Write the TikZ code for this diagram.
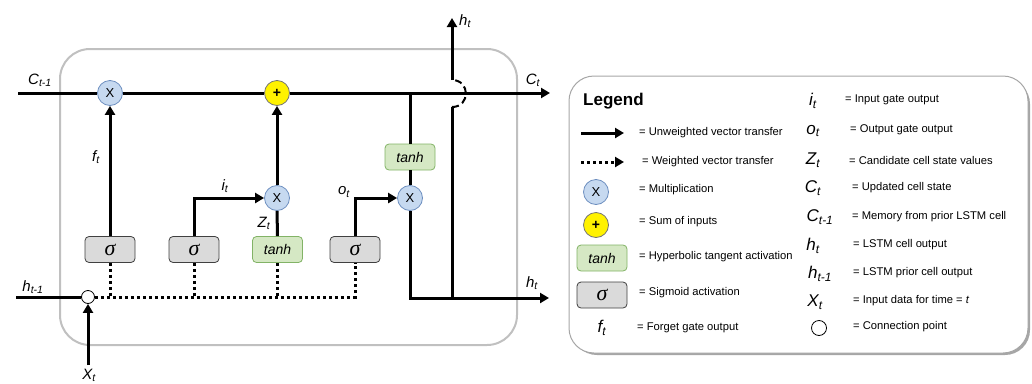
\documentclass[tikz,border=0pt]{standalone}
\usepackage{fontspec}
\setmainfont{Liberation Sans}
\newfontfamily\sigfont{Liberation Serif}
\usetikzlibrary{arrows.meta,calc}
\definecolor{mulfill}{HTML}{C6D9F0}
\definecolor{mulline}{HTML}{6C8EBF}
\definecolor{tanhfill}{HTML}{D5E8C4}
\definecolor{tanhline}{HTML}{82B366}
\definecolor{sigfill}{HTML}{DADADA}
\definecolor{sigline}{HTML}{404040}
\definecolor{boxline}{HTML}{C0C0C0}
\newcommand\vlab[2]{{\itshape #1\textsubscript{#2}}}
\newcommand\sigsym{{\sigfont\itshape\fontsize{22}{22}\selectfont σ}}
\tikzset{
  mulc/.style={circle,draw=mulline,fill=mulfill,line width=0.8pt,minimum size=25pt,inner sep=0pt,font=\fontsize{13}{13}\selectfont},
  addc/.style={circle,draw=black!55,fill=yellow,line width=0.8pt,minimum size=25pt,inner sep=0pt,font=\fontsize{14}{14}\selectfont\bfseries},
  tanhbox/.style={rectangle,rounded corners=4pt,draw=tanhline,fill=tanhfill,line width=0.8pt,minimum width=50pt,minimum height=26pt,inner sep=0pt,font=\fontsize{14}{14}\selectfont\itshape},
  sigbox/.style={rectangle,rounded corners=4pt,draw=sigline,fill=sigfill,line width=0.8pt,minimum width=50pt,minimum height=26pt,inner sep=0pt},
  joint/.style={circle,draw=black,fill=white,line width=0.8pt,minimum size=13pt,inner sep=0pt},
  wire/.style={line width=3pt,black},
  arrowline/.style={wire,-{Triangle[length=9pt,width=10pt]}},
  dotline/.style={line width=3pt,black,dash pattern=on 3pt off 3pt},
  var/.style={inner sep=0pt,font=\fontsize{15}{17}\selectfont},
  lvar/.style={inner sep=0pt,font=\fontsize{17}{19}\selectfont},
  desc/.style={anchor=west,inner sep=0pt,font=\fontsize{11.2}{13}\selectfont}
}
\begin{document}
\begin{tikzpicture}[x=1pt,y=-1pt]
\useasboundingbox (0,0) rectangle (1032,383);
% main cell frame
\draw[boxline,line width=2pt,rounded corners=30pt] (60,49) rectangle (517,345);
% nodes
\node[mulc] (mulf) at (110,93) {X};
\node[addc] (add) at (277,93) {+};
\node[mulc] (muli) at (277,198) {X};
\node[mulc] (mulo) at (410,198) {X};
\node[sigbox] (sig1) at (110,249.5) {\sigsym};
\node[sigbox] (sig2) at (194,249.5) {\sigsym};
\node[tanhbox] (tanh1) at (277.5,249.5) {tanh};
\node[sigbox] (sig3) at (355,249.5) {\sigsym};
\node[tanhbox] (tanh2) at (410,157) {tanh};
\node[joint] (conn) at (88,297) {};
\coordinate (cin) at (18,93);
\coordinate (cout) at (550,93);
\coordinate (cj) at (410,93);
\coordinate (hin) at (16,297);
\coordinate (xin) at (88,365);
\coordinate (hout) at (549,298);
\coordinate (hj) at (452,298);
\coordinate (jb) at (452,107);
\coordinate (ja) at (452,80);
\coordinate (htop) at (452,18);
% cell state line
\draw[wire] (cin) -- (mulf) -- (add);
\draw[arrowline] (add) -- (cout);
% gates
\draw[arrowline] (sig1) -- (mulf);
\draw[arrowline] (sig2.north) |- (muli);
\draw[wire] (muli) -- (tanh1);
\draw[arrowline] (muli) -- (add);
\draw[arrowline] (sig3.north) |- (mulo);
\draw[wire] (cj) -- (tanh2);
\draw[wire] (tanh2) -- (mulo);
\draw[arrowline] (mulo) |- (hout);
\draw[wire] (hj) -- (jb);
\draw[line width=2pt,dash pattern=on 7pt off 4pt] (jb) .. controls ($(jb)+(18.5,0)$) and ($(ja)+(18.5,0)$) .. (ja);
\draw[arrowline] (ja) -- (htop);
% inputs
\draw[wire] (hin) -- (conn);
\draw[arrowline] (xin) -- (conn);
\draw[dotline] (conn) -- (sig3.south |- conn) -- (sig3.south);
\draw[dotline] (sig1.south) -- (sig1.south |- conn);
\draw[dotline] (sig2.south) -- (sig2.south |- conn);
\draw[dotline] (tanh1.south) -- (tanh1.south |- conn);
% labels
\node[var] (lc1) at (40,80) {\vlab{C}{t-1}};
\node[var] (lct) at (533,80) {\vlab{C}{t}};
\node[var] (lft) at (96,157) {\vlab{f}{t}};
\node[var] (lit) at (225,186) {\vlab{i}{t}};
\node[var] (lzt) at (264,223) {\vlab{Z}{t}};
\node[var] (lot) at (344,192) {\vlab{o}{t}};
\node[var] (lht) at (532,283) {\vlab{h}{t}};
\node[var,anchor=west] (lhtop) at (459,21) {\vlab{h}{t}};
\node[var] (lhin) at (33,287) {\vlab{h}{t-1}};
\node[var,anchor=south] (lxt) at (89,382) {\vlab{X}{t}};
% legend frame
\fill[black!35,rounded corners=25pt] (572,79) rectangle (1030,355);
\draw[black!35,fill=white,line width=1pt,rounded corners=25pt] (569,76) rectangle (1028,353);
\node[anchor=west,inner sep=0pt,font=\fontsize{17}{20}\selectfont\bfseries] (leg) at (583,101) {Legend};
\coordinate (la1) at (581,133); \coordinate (lb1) at (624,133);
\draw[arrowline] (la1) -- (lb1);
\coordinate (la2) at (581,162); \coordinate (lb2) at (624,162);
\draw[dotline,-{Triangle[length=9pt,width=10pt]}] (la2) -- (lb2);
\node[mulc] (lmul) at (596,192) {X};
\node[addc] (ladd) at (596,225) {+};
\node[tanhbox] (ltanh) at (602,258) {tanh};
\node[sigbox] (lsig) at (602,295) {\sigsym};
\node[lvar] (lf) at (602,328) {\vlab{f}{t}};
\node[desc] at (639,133) {= Unweighted vector transfer};
\node[desc] at (642,162) {= Weighted vector transfer};
\node[desc] at (639,190) {= Multiplication};
\node[desc] at (639,222) {= Sum of inputs};
\node[desc] at (639,257) {= Hyperbolic tangent activation};
\node[desc] at (639,293) {= Sigmoid activation};
\node[desc] at (637,328) {= Forget gate output};
% right legend column
\node[lvar] (li) at (813,101) {\vlab{i}{t}};
\node[lvar] (lo) at (813,131) {\vlab{o}{t}};
\node[lvar] (lz) at (813,160) {\vlab{Z}{t}};
\node[lvar] (lc) at (813,188) {\vlab{C}{t}};
\node[lvar] (lcm) at (820,217) {\vlab{C}{t-1}};
\node[lvar] (lh) at (813,246) {\vlab{h}{t}};
\node[lvar] (lhm) at (820,274) {\vlab{h}{t-1}};
\node[lvar] (lx) at (815,302) {\vlab{X}{t}};
\node[joint,minimum size=15pt] (lconn) at (819,328) {};
\node[desc] at (845,100) {= Input gate output};
\node[desc] at (850,130) {= Output gate output};
\node[desc] at (849,160) {= Candidate cell state values};
\node[desc] at (852,188) {= Updated cell state};
\node[desc] at (852,217) {= Memory from prior LSTM cell};
\node[desc] at (853,245) {= LSTM cell output};
\node[desc] at (853,273) {= LSTM prior cell output};
\node[desc] at (853,301) {= Input data for time = \textit{t}};
\node[desc] at (853,327) {= Connection point};
\end{tikzpicture}
\end{document}
